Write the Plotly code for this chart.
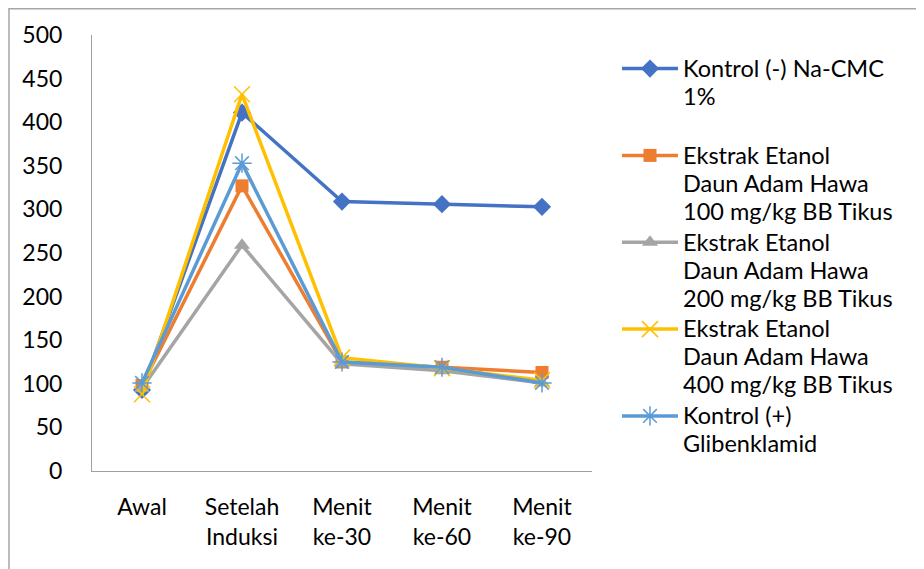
import plotly.graph_objects as go

categories = ["Awal", "Setelah<br>Induksi", "Menit<br>ke-30", "Menit<br>ke-60", "Menit<br>ke-90"]

series_names = [
    "Kontrol (-) Na-CMC<br>1%<br> ",
    "Ekstrak Etanol<br>Daun Adam Hawa<br>100 mg/kg BB Tikus",
    "Ekstrak Etanol<br>Daun Adam Hawa<br>200 mg/kg BB Tikus",
    "Ekstrak Etanol<br>Daun Adam Hawa<br>400 mg/kg BB Tikus",
    "Kontrol (+)<br>Glibenklamid",
]

kontrol_neg = [93, 411, 309, 306, 303]
ekstrak_100 = [98, 327, 125, 119, 113]
ekstrak_200 = [95, 259, 123, 115, 101]
ekstrak_400 = [88, 432, 130, 118, 104]
kontrol_pos = [101, 353, 125, 119, 101]

y_ticks = [0, 50, 100, 150, 200, 250, 300, 350, 400, 450, 500]

series_values = [kontrol_neg, ekstrak_100, ekstrak_200, ekstrak_400, kontrol_pos]
colors = ["#4472C4", "#ED7D31", "#A5A5A5", "#FFC000", "#5B9BD5"]
symbols = ["diamond", "square", "triangle-up", "x-thin-open", "asterisk-open"]
msizes = [14, 13, 14, 16, 16]

FONT = "Lato"
SPAN = '<span style="font-size:23.5px">'

fig = go.Figure()
for name, vals, c, s, ms in zip(series_names, series_values, colors, symbols, msizes):
    open_sym = s.endswith("open")
    fig.add_trace(go.Scatter(
        x=categories, y=vals,
        name=SPAN + name.replace("<br>", "</span><br>" + SPAN) + "</span>",
        mode="lines+markers",
        line=dict(color=c, width=3.5),
        marker=dict(symbol=s, size=ms, color=c,
                    line=dict(color=c, width=1.5 if open_sym else 0)),
    ))

fig.update_layout(
    width=916, height=561,
    margin=dict(l=84, r=332, t=27, b=98),
    paper_bgcolor="white", plot_bgcolor="white",
    font=dict(family=FONT, size=23, color="#000000"),
    showlegend=True,
    legend=dict(
        x=1.05, y=0.97, xanchor="left", yanchor="top",
        font=dict(family=FONT, size=21.5, color="#000000"),
        itemwidth=56, valign="top", bgcolor="rgba(0,0,0,0)",
        tracegroupgap=0,
    ),
    shapes=[dict(type="rect", xref="paper", yref="paper",
                 x0=-0.166, x1=1.9, y0=-0.3, y1=1.06,
                 line=dict(color="#a6a6a6", width=1.5), fillcolor="rgba(0,0,0,0)",
                 layer="below")],
)

fig.update_xaxes(
    type="category", categoryorder="array", categoryarray=categories,
    range=[-0.5, 4.5],
    showline=True, linecolor="#a0a0a0", linewidth=1,
    showgrid=False, ticks="", zeroline=False,
    tickfont=dict(family=FONT, size=23, color="#000000"),
    ticklabelstandoff=15,
)
fig.update_yaxes(
    range=[0, 500], tickvals=y_ticks,
    showline=True, linecolor="#a0a0a0", linewidth=1,
    showgrid=False, ticks="", zeroline=False,
    tickfont=dict(family=FONT, size=23, color="#000000"),
    ticklabelstandoff=24,
)

fig.write_html("out.html")
